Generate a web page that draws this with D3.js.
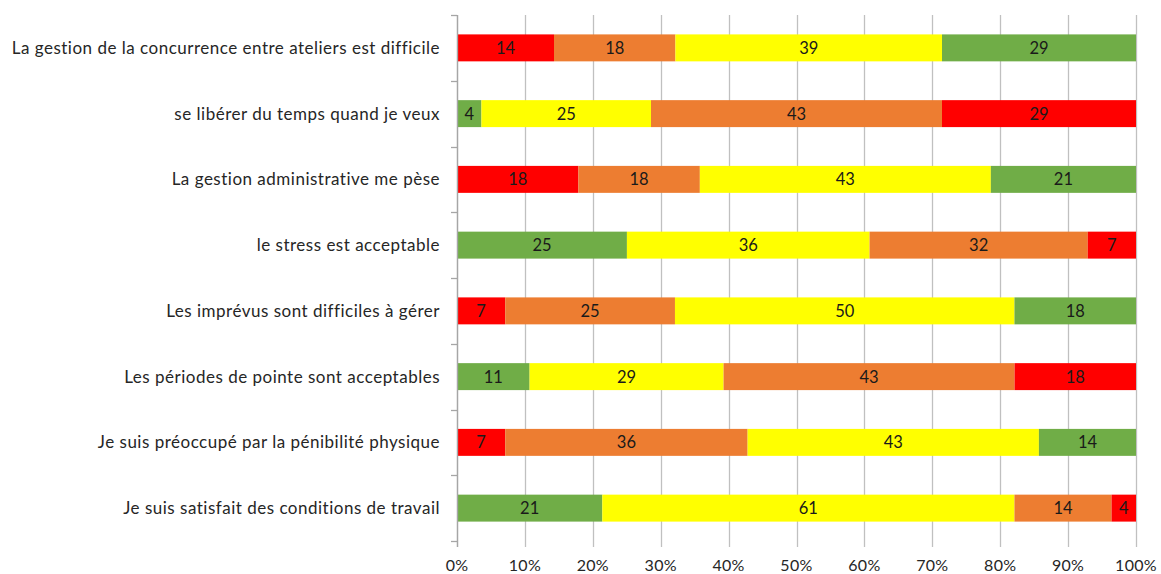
<!DOCTYPE html>
<html>
<head>
<meta charset="utf-8">
<script src="https://cdn.jsdelivr.net/npm/d3@7"></script>
<style>
  body { margin: 0; background: #fff; }
  text { font-family: Lato, "Open Sans", sans-serif; }
</style>
</head>
<body>
<script>
// questions, top to bottom
var categories = [
  "La gestion de la concurrence entre ateliers est difficile",
  "se libérer du temps quand je veux",
  "La gestion administrative me pèse",
  "le stress est acceptable",
  "Les imprévus sont difficiles à gérer",
  "Les périodes de pointe sont acceptables",
  "Je suis préoccupé par la pénibilité physique",
  "Je suis satisfait des conditions de travail"
];

// segment order (left to right) for each row
var segOrder = [
  ["red", "orange", "yellow", "green"],
  ["green", "yellow", "orange", "red"],
  ["red", "orange", "yellow", "green"],
  ["green", "yellow", "orange", "red"],
  ["red", "orange", "yellow", "green"],
  ["green", "yellow", "orange", "red"],
  ["red", "orange", "yellow", "green"],
  ["green", "yellow", "orange", "red"]
];

// percentages per row, same order as segOrder
var segValues = [
  [14.3, 17.9, 39.3, 28.6],
  [3.6, 25.0, 42.9, 28.6],
  [17.9, 17.9, 42.9, 21.4],
  [25.0, 35.7, 32.1, 7.1],
  [7.1, 25.0, 50.0, 17.9],
  [10.7, 28.6, 42.9, 17.9],
  [7.1, 35.7, 42.9, 14.3],
  [21.4, 60.7, 14.3, 3.6]
];

var xTicks = [0, 0.1, 0.2, 0.3, 0.4, 0.5, 0.6, 0.7, 0.8, 0.9, 1];

var colors = {red: "#ff0000", orange: "#ed7d31", yellow: "#ffff00", green: "#70ad47"};

var W = 1161, H = 574;
var margin = {top: 15, right: 25, bottom: 33, left: 457};
var width = W - margin.left - margin.right,
    height = H - margin.top - margin.bottom;

var svg = d3.select("body").append("svg")
    .attr("width", W)
    .attr("height", H);

var g = svg.append("g")
    .attr("transform", "translate(" + margin.left + "," + margin.top + ")");

var x = d3.scaleLinear().domain([0, 1]).range([0, width]);
var y = d3.scaleBand().domain(categories).range([0, height]).paddingInner(0.59).paddingOuter(0.295);

// gridlines + bottom ticks
g.selectAll("line.grid")
    .data(xTicks)
    .enter().append("line")
    .attr("class", "grid")
    .attr("x1", function(d) { return Math.round(x(d)) + 0.5; })
    .attr("x2", function(d) { return Math.round(x(d)) + 0.5; })
    .attr("y1", 0)
    .attr("y2", height + 6)
    .attr("stroke", "#c0c0c0")
    .attr("stroke-width", 1.3);

g.selectAll("text.xt")
    .data(xTicks)
    .enter().append("text")
    .attr("class", "xt")
    .attr("x", function(d) { return x(d); })
    .attr("y", height + 30)
    .attr("text-anchor", "middle")
    .attr("font-size", 16)
    .attr("letter-spacing", 0.3)
    .attr("fill", "#262626")
    .text(function(d) { return Math.round(d * 100) + "%"; });

// left axis ticks at band boundaries
var step = height / categories.length;
g.selectAll("line.yt")
    .data(d3.range(categories.length + 1))
    .enter().append("line")
    .attr("class", "yt")
    .attr("x1", -6).attr("x2", 0)
    .attr("y1", function(i) { return Math.round(i * step) + 0.5; })
    .attr("y2", function(i) { return Math.round(i * step) + 0.5; })
    .attr("stroke", "#a6a6a6")
    .attr("stroke-width", 1.3);

g.selectAll("text.cat")
    .data(categories)
    .enter().append("text")
    .attr("class", "cat")
    .attr("x", -17)
    .attr("y", function(d) { return y(d) + y.bandwidth() / 2; })
    .attr("dy", "0.35em")
    .attr("text-anchor", "end")
    .attr("font-size", 17)
    .attr("letter-spacing", 0.5)
    .attr("fill", "#262626")
    .text(function(d) { return d; });

// bars
categories.forEach(function(cat, i) {
  var total = d3.sum(segValues[i]);
  var acc = 0;
  var segs = segValues[i].map(function(v, j) {
    var s = {x0: acc / total, x1: (acc + v) / total, v: v, c: segOrder[i][j]};
    acc += v;
    return s;
  });
  var row = g.append("g");
  row.selectAll("rect")
      .data(segs)
      .enter().append("rect")
      .attr("x", function(d) { return x(d.x0); })
      .attr("width", function(d) { return x(d.x1) - x(d.x0); })
      .attr("y", y(cat))
      .attr("height", y.bandwidth())
      .attr("fill", function(d) { return colors[d.c]; });
  row.selectAll("text")
      .data(segs)
      .enter().append("text")
      .attr("x", function(d) { return (x(d.x0) + x(d.x1)) / 2; })
      .attr("y", y(cat) + y.bandwidth() / 2)
      .attr("dy", "0.37em")
      .attr("text-anchor", "middle")
      .attr("font-size", 16.5)
      .attr("fill", "#1a1a1a")
      .text(function(d) { return Math.round(d.v); });
});

// left axis line
g.append("line")
    .attr("x1", 0.5).attr("x2", 0.5)
    .attr("y1", 0).attr("y2", height + 6)
    .attr("stroke", "#a6a6a6")
    .attr("stroke-width", 1.3);
</script>
</body>
</html>
